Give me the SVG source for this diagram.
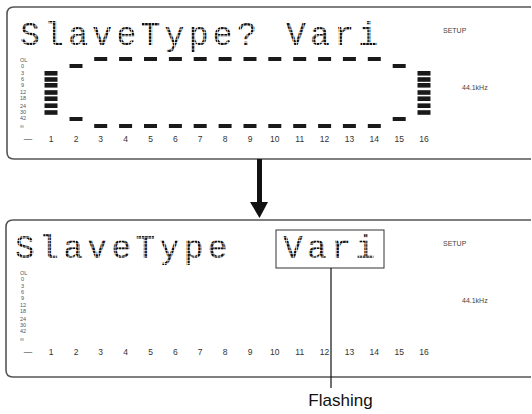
<svg xmlns="http://www.w3.org/2000/svg" width="532" height="414" viewBox="0 0 532 414">
<style>
.frame{fill:none;stroke:#555;stroke-width:1.6}
.lcd{font-family:"Liberation Mono","DejaVu Sans Mono",monospace;font-size:33px;fill:url(#dm);letter-spacing:4.3px}
.sc{font-family:"Liberation Sans",Arial,sans-serif;font-size:5.5px;fill:#555}
.num{font-family:"Liberation Sans",Arial,sans-serif;font-size:8.5px;fill:#333;text-anchor:middle}
.small{font-family:"Liberation Sans",Arial,sans-serif;font-size:7px;fill:#444}
.seg{fill:#1a1a1a}
.lbl{font-family:"Liberation Sans",Arial,sans-serif;font-size:17px;fill:#111;text-anchor:middle}
</style>
<defs>
<pattern id="dm" width="3.3" height="3.3" patternUnits="userSpaceOnUse">
<rect width="2.7" height="2.7" fill="#111"/>
</pattern>
<g id="scale">
<text class="sc" x="20" y="62">OL</text>
<text class="sc" x="21" y="68">0</text>
<text class="sc" x="21" y="75">3</text>
<text class="sc" x="21" y="81">6</text>
<text class="sc" x="21" y="87">9</text>
<text class="sc" x="20" y="94">12</text>
<text class="sc" x="20" y="100">18</text>
<text class="sc" x="20" y="108">24</text>
<text class="sc" x="20" y="114">30</text>
<text class="sc" x="20" y="120">42</text>
<text class="sc" x="20" y="128">∞</text>
<text class="num" x="28" y="142">—</text>
<text class="num" x="51" y="142">1</text>
<text class="num" x="76" y="142">2</text>
<text class="num" x="100.7" y="142">3</text>
<text class="num" x="125.6" y="142">4</text>
<text class="num" x="150.5" y="142">5</text>
<text class="num" x="175.4" y="142">6</text>
<text class="num" x="200.2" y="142">7</text>
<text class="num" x="225.1" y="142">8</text>
<text class="num" x="250" y="142">9</text>
<text class="num" x="274.8" y="142">10</text>
<text class="num" x="299.7" y="142">11</text>
<text class="num" x="324.6" y="142">12</text>
<text class="num" x="349.4" y="142">13</text>
<text class="num" x="374.3" y="142">14</text>
<text class="num" x="399.2" y="142">15</text>
<text class="num" x="424" y="142">16</text>
<text class="small" x="443" y="33">SETUP</text>
<text class="small" x="462" y="90">44.1kHz</text>
</g>
<g id="bars">
<rect class="seg" x="0" y="71" width="13" height="4.6"/>
<rect class="seg" x="0" y="77.2" width="13" height="4.6"/>
<rect class="seg" x="0" y="83" width="13" height="4.6"/>
<rect class="seg" x="0" y="90.2" width="13" height="4.6"/>
<rect class="seg" x="0" y="96.4" width="13" height="4.6"/>
<rect class="seg" x="0" y="103.4" width="13" height="4.6"/>
<rect class="seg" x="0" y="110.2" width="13" height="4.6"/>
</g>
</defs>

<g id="panel1">
<path class="frame" d="M531,7 H14 Q7,7 7,14 V152 Q7,159 14,159 H531"/>
<text class="lcd" x="20" y="45">SlaveType?</text>
<text class="lcd" x="286" y="45">Vari</text>
<use href="#scale"/>
<use href="#bars" x="44.5"/>
<use href="#bars" x="417.5"/>
<g>
<rect class="seg" x="69.5" y="64" width="13" height="4"/>
<rect class="seg" x="69.5" y="117" width="13" height="4"/>
<rect class="seg" x="392.7" y="64" width="13" height="4"/>
<rect class="seg" x="392.7" y="117" width="13" height="4"/>
<rect class="seg" x="94.2" y="57" width="13" height="4"/><rect class="seg" x="94.2" y="124" width="13" height="4"/>
<rect class="seg" x="119.1" y="57" width="13" height="4"/><rect class="seg" x="119.1" y="124" width="13" height="4"/>
<rect class="seg" x="144" y="57" width="13" height="4"/><rect class="seg" x="144" y="124" width="13" height="4"/>
<rect class="seg" x="168.9" y="57" width="13" height="4"/><rect class="seg" x="168.9" y="124" width="13" height="4"/>
<rect class="seg" x="193.7" y="57" width="13" height="4"/><rect class="seg" x="193.7" y="124" width="13" height="4"/>
<rect class="seg" x="218.6" y="57" width="13" height="4"/><rect class="seg" x="218.6" y="124" width="13" height="4"/>
<rect class="seg" x="243.5" y="57" width="13" height="4"/><rect class="seg" x="243.5" y="124" width="13" height="4"/>
<rect class="seg" x="268.3" y="57" width="13" height="4"/><rect class="seg" x="268.3" y="124" width="13" height="4"/>
<rect class="seg" x="293.2" y="57" width="13" height="4"/><rect class="seg" x="293.2" y="124" width="13" height="4"/>
<rect class="seg" x="318.1" y="57" width="13" height="4"/><rect class="seg" x="318.1" y="124" width="13" height="4"/>
<rect class="seg" x="342.9" y="57" width="13" height="4"/><rect class="seg" x="342.9" y="124" width="13" height="4"/>
<rect class="seg" x="367.8" y="57" width="13" height="4"/><rect class="seg" x="367.8" y="124" width="13" height="4"/>
</g>
</g>

<g id="panel2">
<path class="frame" d="M531,220 H13 Q6,220 6,227 V370 Q6,377 13,377 H531"/>
<text class="lcd" x="15" y="258">SlaveType</text>
<text class="lcd" x="283" y="258">Vari</text>
<rect x="276" y="230" width="108" height="38" fill="none" stroke="#333" stroke-width="1"/>
<use href="#scale" y="213"/>
</g>

<g id="connectors">
<rect x="257" y="159" width="5" height="44" fill="#111"/>
<polygon points="250,202 268,202 259.5,218" fill="#111"/>
<line x1="331" y1="268" x2="331" y2="388" stroke="#111" stroke-width="1.2"/>
</g>

<g id="label-flashing">
<text class="lbl" x="340.5" y="406">Flashing</text>
</g>
</svg>
